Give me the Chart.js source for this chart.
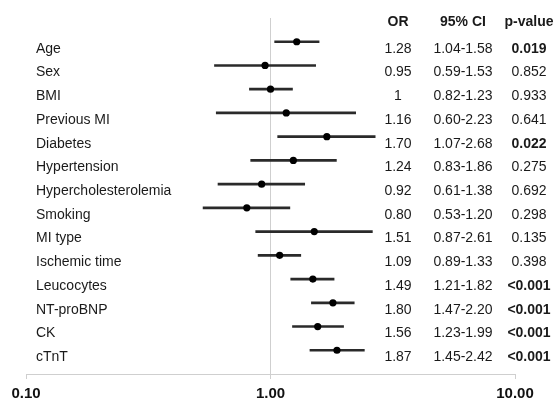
<!DOCTYPE html>
<html>
<head>
<meta charset="utf-8">
<script src="https://cdn.jsdelivr.net/npm/chart.js@4.4.1/dist/chart.umd.min.js"></script>
<style>
  html, body { margin: 0; padding: 0; background: #fff; overflow: hidden; }
  #wrap { width: 556px; height: 410px; position: relative; }
</style>
</head>
<body>
<div id="wrap"><canvas id="forest"></canvas></div>
<script>
const labels = ["Age", "Sex", "BMI", "Previous MI", "Diabetes", "Hypertension", "Hypercholesterolemia",
  "Smoking", "MI type", "Ischemic time", "Leucocytes", "NT-proBNP", "CK", "cTnT"];
const oddsRatios = [1.28, 0.95, 1, 1.16, 1.70, 1.24, 0.92, 0.80, 1.51, 1.09, 1.49, 1.80, 1.56, 1.87];
const ciLow = [1.04, 0.59, 0.82, 0.60, 1.07, 0.83, 0.61, 0.53, 0.87, 0.89, 1.21, 1.47, 1.23, 1.45];
const ciHigh = [1.58, 1.53, 1.23, 2.23, 2.68, 1.86, 1.38, 1.20, 2.61, 1.33, 1.82, 2.20, 1.99, 2.42];
const pValues = ["0.019", "0.852", "0.933", "0.641", "0.022", "0.275", "0.692",
  "0.298", "0.135", "0.398", "<0.001", "<0.001", "<0.001", "<0.001"];
const xTicks = [0.1, 1, 10];

const FONT = "'Liberation Sans', Arial, sans-serif";

function orText(v) {
  return v === 1 ? "1" : v.toFixed(2);
}

function isSignificant(p) {
  return p.startsWith("<") || parseFloat(p) < 0.05;
}

// row labels and the OR / CI / p-value table, placed with the y scale
const tablePlugin = {
  id: "table",
  afterDatasetsDraw(chart) {
    const ctx = chart.ctx;
    const y = chart.scales.y;
    const cols = { or: 398, ci: 463, p: 529 };
    ctx.save();
    ctx.fillStyle = "#1a1a1a";
    ctx.textBaseline = "middle";

    const headY = y.getPixelForValue(-1) + 4.5;
    ctx.font = "bold 14px " + FONT;
    ctx.textAlign = "center";
    ctx.fillText("OR", cols.or, headY);
    ctx.fillText("95% CI", cols.ci, headY);
    ctx.fillText("p-value", cols.p, headY);

    labels.forEach((label, i) => {
      const ty = y.getPixelForValue(i) + 7;
      ctx.font = "14px " + FONT;
      ctx.textAlign = "left";
      ctx.fillText(label, 36, ty);
      ctx.textAlign = "center";
      ctx.fillText(orText(oddsRatios[i]), cols.or, ty);
      ctx.fillText(ciLow[i].toFixed(2) + "-" + ciHigh[i].toFixed(2), cols.ci, ty);
      ctx.font = (isSignificant(pValues[i]) ? "bold " : "") + "14px " + FONT;
      ctx.fillText(pValues[i], cols.p, ty);
    });
    ctx.restore();
  },
};

new Chart(document.getElementById("forest"), {
  type: "scatter",
  data: {
    datasets: [
      {
        type: "scatter",
        label: "OR",
        data: oddsRatios.map((v, i) => ({ x: v, y: i })),
        pointRadius: 3.6,
        pointBackgroundColor: "#000",
        pointBorderWidth: 0,
        order: 0,
      },
      {
        type: "bar",
        label: "95% CI",
        indexAxis: "y",
        data: ciLow.map((lo, i) => ({ x: [lo, ciHigh[i]], y: i })),
        backgroundColor: "#2a2a2a",
        barThickness: 2,
        borderWidth: 0,
        order: 1,
      },
    ],
  },
  options: {
    responsive: true,
    maintainAspectRatio: false,
    animation: false,
    layout: { padding: { left: 26, right: 41, top: 18, bottom: 1 } },
    plugins: {
      legend: { display: false },
      tooltip: { enabled: false },
    },
    scales: {
      x: {
        type: "logarithmic",
        min: 0.1,
        max: 10,
        offset: false,
        afterBuildTicks(scale) {
          scale.ticks = xTicks.map((v) => ({ value: v }));
        },
        ticks: {
          autoSkip: false,
          maxRotation: 0,
          padding: 7.5,
          color: "#111",
          font: { family: FONT, size: 15, weight: "bold", lineHeight: 1 },
          callback: (v) => Number(v).toFixed(2),
        },
        grid: {
          offset: false,
          color: (c) => (c.tick && c.tick.value === 1 ? "#cfcfcf" : "rgba(0,0,0,0)"),
          tickColor: "#cfcfcf",
          tickLength: 5,
          lineWidth: 1,
        },
        border: { color: "#cfcfcf", width: 1 },
      },
      y: {
        type: "linear",
        min: -1,
        max: 14,
        reverse: true,
        offset: false,
        grid: { offset: false },
        display: false,
      },
    },
  },
  plugins: [tablePlugin],
});
</script>
</body>
</html>
